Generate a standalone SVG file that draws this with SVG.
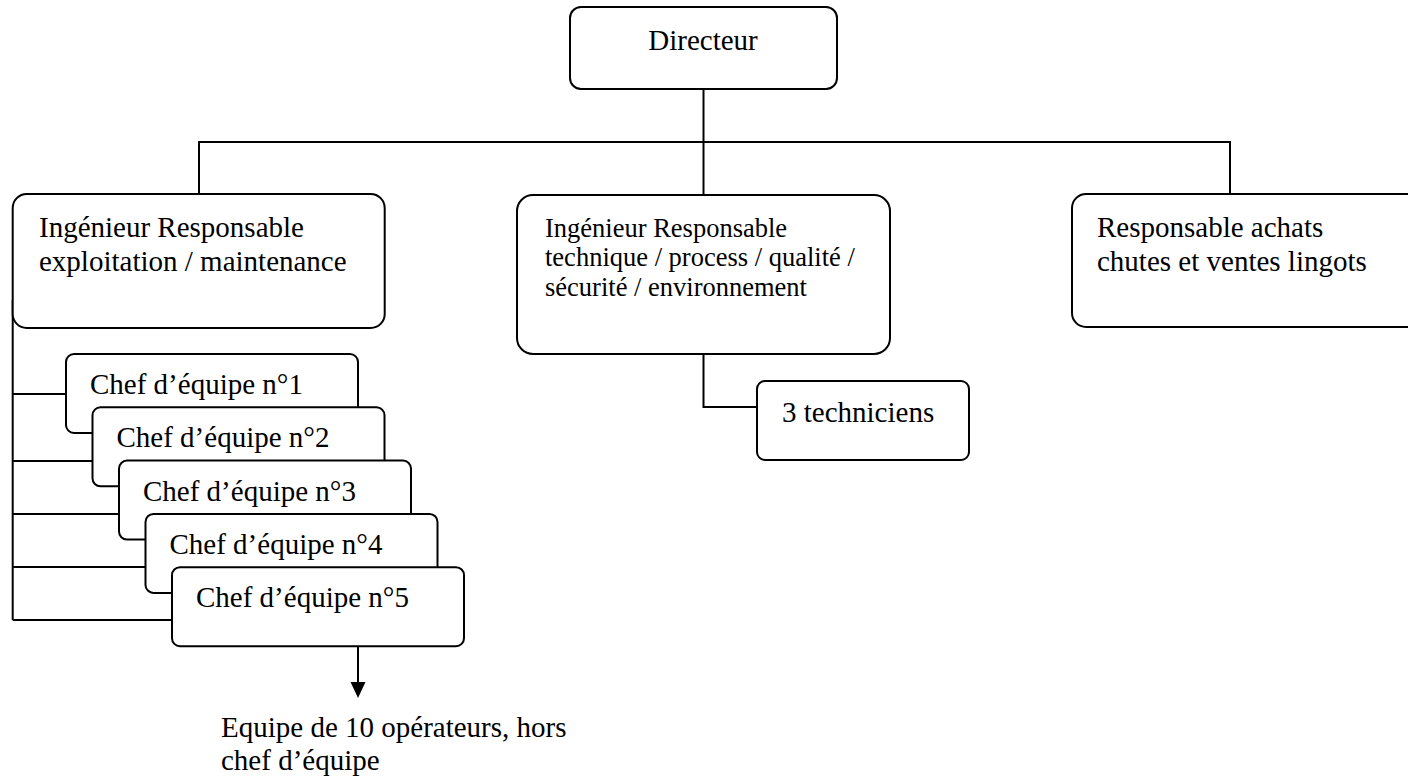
<svg xmlns="http://www.w3.org/2000/svg" width="1408" height="777" viewBox="0 0 1408 777">
<style>
.box{fill:#fff;stroke:#000;stroke-width:2}
.ln{fill:none;stroke:#000;stroke-width:2}
text{font-family:"Liberation Serif","Times New Roman",serif;font-size:29px;fill:#000}
.sm{font-size:26.5px}
</style>
<g id="connectors">
<path class="ln" d="M703.5,89 V195"/>
<path class="ln" d="M199,194 V142 H1230 V194"/>
<path class="ln" d="M12.7,300 V620"/>
<path class="ln" d="M12.7,394 H66"/>
<path class="ln" d="M12.7,461 H92.5"/>
<path class="ln" d="M12.7,514 H119"/>
<path class="ln" d="M12.7,567 H145.5"/>
<path class="ln" d="M12.7,620 H172"/>
<path class="ln" d="M703.5,354 V407 H757"/>
<path class="ln" d="M358,646 V684"/>
<polygon points="350.5,682 365.5,682 358,698" fill="#000"/>
</g>
<g id="directeur">
<rect class="box" x="570" y="7" width="267" height="82" rx="11"/>
<text x="703" y="50" text-anchor="middle">Directeur</text>
</g>
<g id="ing-exploitation">
<rect class="box" x="12.7" y="194" width="372" height="134" rx="14"/>
<text x="39" y="237">Ingénieur Responsable</text>
<text x="39" y="271">exploitation / maintenance</text>
</g>
<g id="ing-technique">
<rect class="box" x="517" y="195" width="373" height="159" rx="16"/>
<text class="sm" x="545" y="237">Ingénieur Responsable</text>
<text class="sm" x="545" y="266">technique / process / qualité /</text>
<text class="sm" x="545" y="296">sécurité / environnement</text>
</g>
<g id="resp-achats">
<rect class="box" x="1072" y="194" width="360" height="133" rx="14"/>
<text x="1097" y="237">Responsable achats</text>
<text x="1097" y="271">chutes et ventes lingots</text>
</g>
<g id="techniciens">
<rect class="box" x="757" y="381" width="212" height="79" rx="8"/>
<text x="782" y="422">3 techniciens</text>
</g>
<g id="chef1">
<rect class="box" x="66" y="354" width="292" height="79" rx="8"/>
<text x="90" y="394">Chef d’équipe n°1</text>
</g>
<g id="chef2">
<rect class="box" x="92.5" y="407.3" width="292" height="79" rx="8"/>
<text x="116.5" y="447.3">Chef d’équipe n°2</text>
</g>
<g id="chef3">
<rect class="box" x="119" y="460.6" width="292" height="79" rx="8"/>
<text x="143" y="500.6">Chef d’équipe n°3</text>
</g>
<g id="chef4">
<rect class="box" x="145.5" y="513.9" width="292" height="79" rx="8"/>
<text x="169.5" y="553.9">Chef d’équipe n°4</text>
</g>
<g id="chef5">
<rect class="box" x="172" y="567.2" width="292" height="79" rx="8"/>
<text x="196" y="607.2">Chef d’équipe n°5</text>
</g>
<g id="equipe">
<text x="221" y="737">Equipe de 10 opérateurs, hors</text>
<text x="221" y="770">chef d’équipe</text>
</g>
</svg>
